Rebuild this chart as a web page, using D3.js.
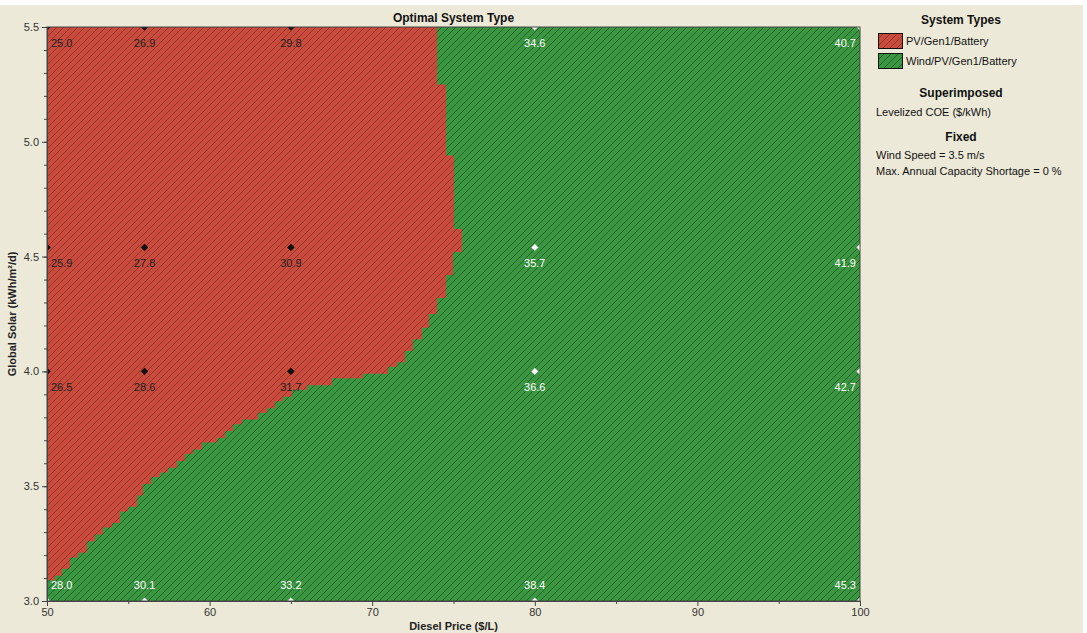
<!DOCTYPE html>
<html>
<head>
<meta charset="utf-8">
<script src="https://cdn.jsdelivr.net/npm/d3@7"></script>
<style>
  body { margin: 0; background: #fff; }
  text { font-family: "Liberation Sans", Arial, sans-serif; }
</style>
</head>
<body>
<div id="chart"></div>
<script>
// sensitivity grid (diesel price x global solar) with levelized COE values
const dieselPrices = [50, 56, 65, 80, 100];
const solarLevels = [5.5, 4.54, 4.0, 3.0];
const coeValues = [
  [25.0, 26.9, 29.8, 34.6, 40.7],
  [25.9, 27.8, 30.9, 35.7, 41.9],
  [26.5, 28.6, 31.7, 36.6, 42.7],
  [28.0, 30.1, 33.2, 38.4, 45.3]
];
// 0 = PV/Gen1/Battery, 1 = Wind/PV/Gen1/Battery
const pointSystem = [
  [0, 0, 0, 1, 1],
  [0, 0, 0, 1, 1],
  [0, 0, 0, 1, 1],
  [1, 1, 1, 1, 1]
];
const systemTypes = ["PV/Gen1/Battery", "Wind/PV/Gen1/Battery"];

// edge of the PV/Gen1/Battery region (stepped)
const boundaryDiesel = [73.99, 74.54, 75.03, 75.52, 74.97, 74.54, 73.99, 73.49, 73.06, 72.51,
  72.02, 71.53, 70.97, 69.43, 67.53, 65.99, 65.07, 64.51, 64.02, 63.53, 62.98, 61.99, 61.44,
  60.95, 60.46, 59.53, 58.98, 58.49, 57.99, 57.44, 56.95, 56.40, 55.90, 55.54, 54.98, 54.49,
  54.00, 53.44, 52.95, 52.46, 51.91, 51.41, 50.92, 50.49, 50.0];
const boundarySolar = [5.50, 5.25, 4.94, 4.62, 4.52, 4.42, 4.32, 4.25, 4.19, 4.14,
  4.09, 4.04, 4.02, 3.99, 3.97, 3.94, 3.92, 3.89, 3.87, 3.84, 3.82, 3.79, 3.77,
  3.74, 3.71, 3.69, 3.66, 3.64, 3.61, 3.58, 3.56, 3.54, 3.51, 3.46, 3.41, 3.39,
  3.34, 3.32, 3.29, 3.26, 3.21, 3.19, 3.14, 3.11, 3.09];

const xTicks = [50, 60, 70, 80, 90, 100];
const xMinor = [55, 65, 75, 85, 95];
const yTicks = [3.0, 3.5, 4.0, 4.5, 5.0, 5.5];

const width = 1087, height = 633;
const plot = { left: 47, right: 860, top: 27, bottom: 601 };
const bg = "#ece9d8";
const fills = [{ fill: "#c94b3d", line: "#8f3329" }, { fill: "#3b9642", line: "#205f26" }];

const svg = d3.select("#chart").append("svg")
  .attr("width", width).attr("height", height);

svg.append("rect").attr("x", 0).attr("y", 5).attr("width", 1083).attr("height", height - 5)
  .attr("fill", bg);

const defs = svg.append("defs");
fills.forEach((f, i) => {
  const p = defs.append("pattern")
    .attr("id", "hatch" + i)
    .attr("patternUnits", "userSpaceOnUse")
    .attr("width", 7).attr("height", 7);
  p.append("rect").attr("width", 7).attr("height", 7).attr("fill", f.fill);
  p.append("path")
    .attr("d", "M-1,1 l2,-2 M0,7 l7,-7 M6,8 l2,-2")
    .attr("stroke", f.line).attr("stroke-width", 0.9);
});
defs.append("clipPath").attr("id", "plotClip")
  .append("rect")
  .attr("x", plot.left).attr("y", plot.top)
  .attr("width", plot.right - plot.left).attr("height", plot.bottom - plot.top);

const x = d3.scaleLinear().domain([50, 100]).range([plot.left, plot.right]);
const y = d3.scaleLinear().domain([3.0, 5.5]).range([plot.bottom, plot.top]);

const g = svg.append("g").attr("clip-path", "url(#plotClip)");

// whole plot = Wind/PV/Gen1/Battery, then PV/Gen1/Battery region on top
g.append("rect")
  .attr("x", x(50)).attr("y", y(5.5))
  .attr("width", x(100) - x(50)).attr("height", y(3.0) - y(5.5))
  .attr("fill", "url(#hatch1)");

const regionPts = boundaryDiesel.map((d, i) => [d, boundarySolar[i]]);
regionPts.push([50, 5.5]);
const line = d3.line()
  .x(d => x(d[0])).y(d => y(d[1]))
  .curve(d3.curveStepBefore);
g.append("path")
  .attr("d", line(regionPts) + "Z")
  .attr("fill", "url(#hatch0)");

// grid points
const pts = [];
solarLevels.forEach((s, i) => dieselPrices.forEach((d, j) => {
  pts.push({ d, s, i, j, v: coeValues[i][j], t: pointSystem[i][j] });
}));

g.selectAll("path.pt")
  .data(pts)
  .enter().append("path")
  .attr("class", "pt")
  .attr("transform", p => `translate(${x(p.d)},${y(p.s)}) rotate(45)`)
  .attr("d", d3.symbol(d3.symbolSquare, 22))
  .attr("fill", p => p.t === 0 ? "#111" : "#fff")
  .attr("stroke", p => p.t === 0 ? "#000" : "#ccc")
  .attr("stroke-width", 0.6);

svg.selectAll("text.val")
  .data(pts)
  .enter().append("text")
  .attr("class", "val")
  .attr("x", p => p.j === 0 ? x(p.d) + 4 : p.j === dieselPrices.length - 1 ? x(p.d) - 4 : x(p.d))
  .attr("y", p => p.s === 3.0 ? y(p.s) - 12 : y(p.s) + 20)
  .attr("text-anchor", p => p.j === 0 ? "start" : p.j === dieselPrices.length - 1 ? "end" : "middle")
  .attr("font-size", 11)
  .attr("fill", p => p.t === 0 ? "#222" : "#fff")
  .text(p => d3.format(".1f")(p.v));

// border
svg.append("rect")
  .attr("x", plot.left).attr("y", plot.top)
  .attr("width", plot.right - plot.left).attr("height", plot.bottom - plot.top)
  .attr("fill", "none").attr("stroke", "#444").attr("stroke-width", 1);

// axes
svg.append("g")
  .attr("transform", `translate(0,${plot.bottom})`)
  .call(d3.axisBottom(x).tickValues(xTicks).tickSize(5).tickPadding(2).tickFormat(d3.format("d")));
svg.append("g")
  .attr("transform", `translate(0,${plot.bottom})`)
  .call(d3.axisBottom(x).tickValues(xMinor).tickSize(3).tickFormat(""));
svg.append("g")
  .attr("transform", `translate(${plot.left},0)`)
  .call(d3.axisLeft(y).tickValues(yTicks).tickSize(5).tickPadding(3).tickFormat(d3.format(".1f")));
svg.append("g")
  .attr("transform", `translate(${plot.left},0)`)
  .call(d3.axisLeft(y).tickValues(d3.range(30, 56).map(v => v / 10)).tickSize(3).tickFormat(""));

svg.selectAll(".domain").attr("stroke", "#444");
svg.selectAll(".tick line").attr("stroke", "#444");
svg.selectAll(".tick text")
  .attr("font-family", "Liberation Sans, Arial, sans-serif")
  .attr("font-size", 11).attr("fill", "#333");

// titles
svg.append("text")
  .attr("x", (plot.left + plot.right) / 2).attr("y", 22)
  .attr("text-anchor", "middle").attr("font-size", 12).attr("font-weight", "bold")
  .attr("fill", "#111")
  .text("Optimal System Type");
svg.append("text")
  .attr("x", (plot.left + plot.right) / 2).attr("y", 630)
  .attr("text-anchor", "middle").attr("font-size", 11).attr("font-weight", "bold")
  .attr("fill", "#222")
  .text("Diesel Price ($/L)");
svg.append("text")
  .attr("transform", `translate(16,${(plot.top + plot.bottom) / 2}) rotate(-90)`)
  .attr("text-anchor", "middle").attr("font-size", 11).attr("font-weight", "bold")
  .attr("fill", "#222")
  .text("Global Solar (kWh/m²/d)");

// legend
const lg = svg.append("g").attr("fill", "#111");
const lx = 876, lc = 961;
lg.append("text").attr("x", lc).attr("y", 24).attr("text-anchor", "middle")
  .attr("font-size", 12).attr("font-weight", "bold").text("System Types");
systemTypes.forEach((s, i) => {
  lg.append("rect")
    .attr("x", lx + 2.5).attr("y", 33.5 + i * 20)
    .attr("width", 24).attr("height", 15)
    .attr("fill", `url(#hatch${i})`).attr("stroke", "#111");
  lg.append("text").attr("x", lx + 30).attr("y", 45 + i * 20)
    .attr("font-size", 11).text(s);
});
lg.append("text").attr("x", lc).attr("y", 97).attr("text-anchor", "middle")
  .attr("font-size", 12).attr("font-weight", "bold").text("Superimposed");
lg.append("text").attr("x", lx).attr("y", 116).attr("font-size", 11)
  .text("Levelized COE ($/kWh)");
lg.append("text").attr("x", lc).attr("y", 141).attr("text-anchor", "middle")
  .attr("font-size", 12).attr("font-weight", "bold").text("Fixed");
lg.append("text").attr("x", lx).attr("y", 159).attr("font-size", 11)
  .text("Wind Speed = 3.5 m/s");
lg.append("text").attr("x", lx).attr("y", 175).attr("font-size", 11)
  .text("Max. Annual Capacity Shortage = 0 %");
</script>
</body>
</html>
